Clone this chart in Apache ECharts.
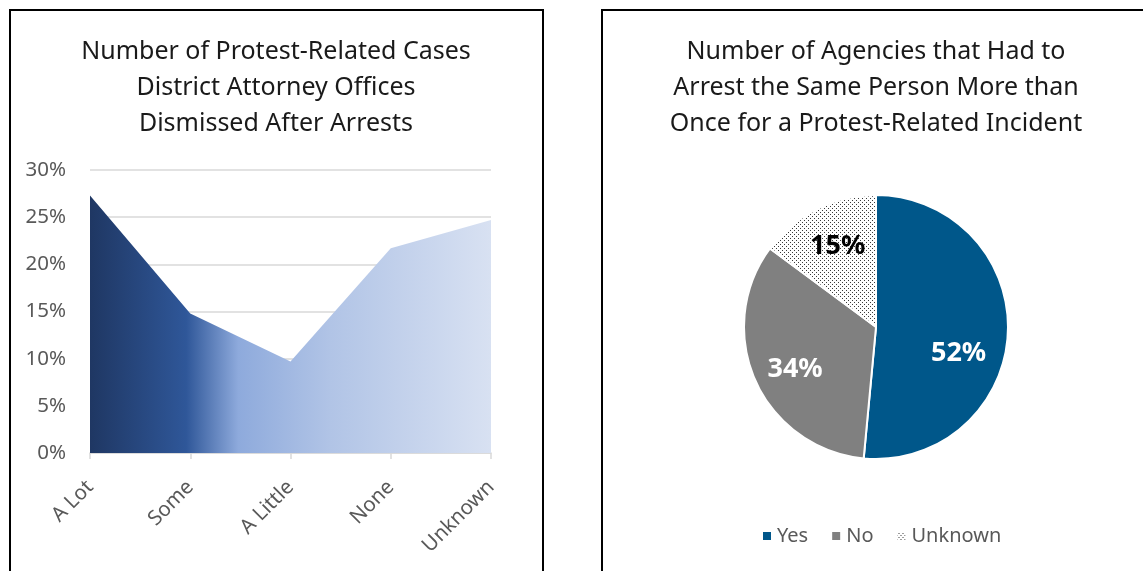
<!DOCTYPE html>
<html>
<head>
<meta charset="utf-8">
<script src="https://cdn.jsdelivr.net/npm/echarts@6/dist/echarts.min.js"></script>
<style>
  html, body { margin: 0; padding: 0; background: #fff; overflow: hidden; }
  #chart { position: absolute; left: 0; top: 0; width: 1143px; height: 571px; }
  .box { position: absolute; border: 2px solid #000; }
</style>
</head>
<body>
<div class="box" style="left:9px;top:9px;width:531px;height:600px;"></div>
<div class="box" style="left:601px;top:9px;width:600px;height:600px;"></div>
<div id="chart"></div>
<script>
// left chart: dismissed cases
const dismissCategories = ['A Lot', 'Some', 'A Little', 'None', 'Unknown'];
const dismissValues = [27.3, 14.8, 9.7, 21.7, 24.7];
const yTicks = { min: 0, max: 30, interval: 5 };

// right chart: repeat arrests
const arrestNames = ['Yes', 'No', 'Unknown'];
const arrestValues = [52, 34, 15];

const FONT = 'Noto Sans';
const PIE_C = [876, 327];
// small nudges so the pie labels sit where Excel put them
const labelNudge = [[-3, 16], [5, 0], [6, -7]];

// dotted pattern for "Unknown"
function dotPattern() {
  const c = document.createElement('canvas');
  c.width = 4; c.height = 4;
  const g = c.getContext('2d');
  g.fillStyle = '#ffffff';
  g.fillRect(0, 0, 4, 4);
  g.fillStyle = '#3a3a3a';
  g.fillRect(0, 0, 1, 1);
  g.fillRect(2, 2, 1, 1);
  return { image: c, repeat: 'repeat' };
}

const pieColors = ['#00578a', '#808080', dotPattern()];
const labelColors = ['#ffffff', '#ffffff', '#000000'];

const titleStyle = { fontSize: 25, fontWeight: 'normal', color: '#1a1a1a', lineHeight: 36, fontFamily: FONT };

const chart = echarts.init(document.getElementById('chart'));
chart.setOption({
  animation: false,
  textStyle: { fontFamily: FONT },
  title: [
    {
      text: 'Number of Protest-Related Cases\nDistrict Attorney Offices\nDismissed After Arrests',
      left: 271, top: 29, textAlign: 'center',
      textStyle: titleStyle
    },
    {
      text: 'Number of Agencies that Had to\nArrest the Same Person More than\nOnce for a Protest-Related Incident',
      left: 871, top: 29, textAlign: 'center',
      textStyle: titleStyle
    }
  ],
  grid: { left: 90, right: 652, top: 170, bottom: 118 },
  xAxis: {
    type: 'category',
    data: dismissCategories,
    boundaryGap: false,
    axisLine: { lineStyle: { color: '#d9d9d9', width: 1.5 } },
    axisTick: { show: true, length: 6, alignWithLabel: true, lineStyle: { color: '#d9d9d9', width: 1.5 } },
    axisLabel: { rotate: 45, margin: 31, fontSize: 20.5, color: '#595959', interval: 0 }
  },
  yAxis: {
    type: 'value',
    min: yTicks.min, max: yTicks.max, interval: yTicks.interval,
    axisLine: { show: false },
    axisTick: { show: false },
    axisLabel: { formatter: '{value}%', fontSize: 20.5, color: '#595959', margin: 24 },
    splitLine: { lineStyle: { color: '#d9d9d9', width: 1.5 } }
  },
  legend: {
    data: arrestNames,
    left: 756, top: 521,
    itemWidth: 10, itemHeight: 10, itemGap: 22,
    icon: 'rect',
    textStyle: { fontSize: 20, color: '#595959', fontFamily: FONT }
  },
  series: [
    {
      type: 'line',
      data: dismissValues,
      symbol: 'none',
      lineStyle: { width: 0 },
      areaStyle: {
        opacity: 1,
        color: {
          type: 'linear', x: 0, y: 0, x2: 1, y2: 0,
          colorStops: [
            { offset: 0, color: '#1f3763' },
            { offset: 0.24, color: '#2f5799' },
            { offset: 0.37, color: '#8eaadc' },
            { offset: 0.6, color: '#b1c4e6' },
            { offset: 1, color: '#d8e1f2' }
          ]
        }
      }
    },
    {
      type: 'pie',
      center: PIE_C,
      radius: 132,
      startAngle: 90,
      clockwise: true,
      data: arrestNames.map((n, i) => ({
        name: n,
        value: arrestValues[i],
        itemStyle: { color: pieColors[i] },
        label: { color: labelColors[i] }
      })),
      itemStyle: { borderColor: '#ffffff', borderWidth: 2 },
      label: {
        show: true,
        position: 'inside',
        formatter: p => p.value + '%',
        fontSize: 27,
        fontWeight: 'bold',
        fontFamily: FONT
      },
      labelLine: { show: false },
      labelLayout: function (params) {
        const r = params.labelRect;
        const dx = r.x + r.width / 2 - PIE_C[0];
        const dy = r.y + r.height / 2 - PIE_C[1];
        const n = labelNudge[params.dataIndex] || [0, 0];
        return { dx: dx * 0.3 - 4 + n[0], dy: dy * 0.3 + 6 + n[1] };
      },
      emphasis: { disabled: true }
    }
  ]
});
</script>
</body>
</html>
